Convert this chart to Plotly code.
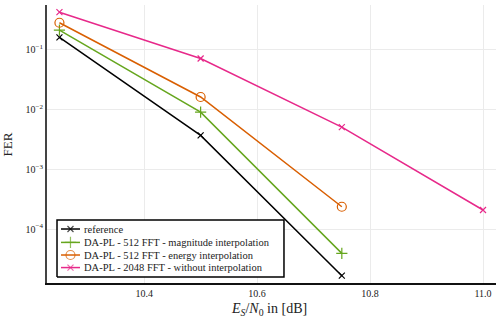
import plotly.graph_objects as go

x_ref = [10.25, 10.5, 10.75]
y_ref = [0.163, 0.0037, 1.65e-5]
x_mag = [10.25, 10.5, 10.75]
y_mag = [0.216, 0.0091, 3.9e-5]
x_en = [10.25, 10.5, 10.75]
y_en = [0.286, 0.0163, 2.36e-4]
x_2048 = [10.25, 10.5, 10.75, 11.0]
y_2048 = [0.43, 0.072, 0.0051, 2.08e-4]

names = ["reference",
         "DA-PL - 512 FFT - magnitude interpolation",
         "DA-PL - 512 FFT - energy interpolation",
         "DA-PL - 2048 FFT - without interpolation"]
colors = ["#000000", "#66a61e", "#d95f02", "#e7298a"]
symbols = ["x-thin", "cross-thin", "circle-open", "x-thin"]
sizes = [6, 8, 9, 6]

xtick_vals = [10.4, 10.6, 10.8, 11.0]
xtick_text = ["10.4", "10.6", "10.8", "11.0"]
ytick_vals = [1e-1, 1e-2, 1e-3, 1e-4]
ytick_text = ["10<sup>−1</sup>", "10<sup>−2</sup>", "10<sup>−3</sup>", "10<sup>−4</sup>"]

font = "Liberation Serif"
txt = "#222"

fig = go.Figure()
for xs, ys, n, c, s, sz in zip([x_ref, x_mag, x_en, x_2048], [y_ref, y_mag, y_en, y_2048],
                               names, colors, symbols, sizes):
    fig.add_trace(go.Scatter(x=xs, y=ys, name=n, mode="lines+markers", showlegend=False,
                             line=dict(color=c, width=1.5),
                             marker=dict(symbol=s, size=sz, color=c,
                                         line=dict(color=c, width=1.2))))

# custom compact legend drawn on an overlay axis pair spanning [0, 1]
leg_x0, leg_x1, leg_y0, leg_y1 = 0.0223, 0.5278, 0.0216, 0.2266
row_y = [0.1942, 0.1460, 0.1007, 0.0555]
ls0, ls1, lm, lt = 0.0312, 0.0735, 0.0523, 0.0790
fig.add_trace(go.Scatter(x=[leg_x0, leg_x1, leg_x1, leg_x0, leg_x0],
                         y=[leg_y0, leg_y0, leg_y1, leg_y1, leg_y0],
                         xaxis="x2", yaxis="y2", mode="lines", fill="toself",
                         fillcolor="white", line=dict(color="black", width=1.5),
                         showlegend=False, hoverinfo="skip"))
annotations = []
for n, c, s, sz, ry in zip(names, colors, symbols, sizes, row_y):
    fig.add_trace(go.Scatter(x=[ls0, lm, ls1], y=[ry, ry, ry], xaxis="x2", yaxis="y2",
                             mode="lines+markers", showlegend=False, hoverinfo="skip",
                             line=dict(color=c, width=1.5),
                             marker=dict(symbol=s, size=[0, sz, 0], color=c,
                                         line=dict(color=c, width=1.2))))
    annotations.append(dict(text=n, xref="paper", yref="paper", x=lt, y=ry, xanchor="left",
                            yanchor="middle", showarrow=False,
                            font=dict(family=font, size=10.5, color=txt)))

annotations += [
    dict(text="<i>E</i><sub><i>S</i></sub>/<i>N</i><sub>0</sub> in [dB]",
         xref="paper", yref="paper", x=0.495, y=-0.058, xanchor="center", yanchor="top",
         showarrow=False, font=dict(family=font, size=14, color=txt)),
    dict(text="FER", xref="paper", yref="paper", x=-0.088, y=0.5, textangle=-90,
         xanchor="center", yanchor="middle",
         showarrow=False, font=dict(family=font, size=13, color=txt)),
]

fig.update_layout(
    width=500, height=319,
    margin=dict(l=47, r=4, t=5, b=36, autoexpand=False),
    paper_bgcolor="white", plot_bgcolor="white",
    font=dict(family=font, size=10, color=txt),
    showlegend=False,
    xaxis=dict(range=[10.228, 11.023], tickvals=xtick_vals, ticktext=xtick_text,
               showgrid=True, gridcolor="#ebebeb", gridwidth=1,
               showline=True, linecolor="#111", linewidth=2, zeroline=False,
               ticks="", tickfont=dict(size=10), automargin=False),
    yaxis=dict(type="log", range=[-4.905, -0.246], tickvals=ytick_vals, ticktext=ytick_text,
               showgrid=True, gridcolor="#ebebeb", gridwidth=1,
               showline=True, linecolor="#444", linewidth=2, zeroline=False,
               ticks="", tickfont=dict(size=10), automargin=False),
    xaxis2=dict(overlaying="x", range=[0, 1], visible=False, fixedrange=True),
    yaxis2=dict(overlaying="y", range=[0, 1], visible=False, fixedrange=True),
    annotations=annotations,
)
fig.write_html("out.html", config={"displayModeBar": False},
               post_script="document.body.style.margin='0';document.body.style.overflow='hidden';")
